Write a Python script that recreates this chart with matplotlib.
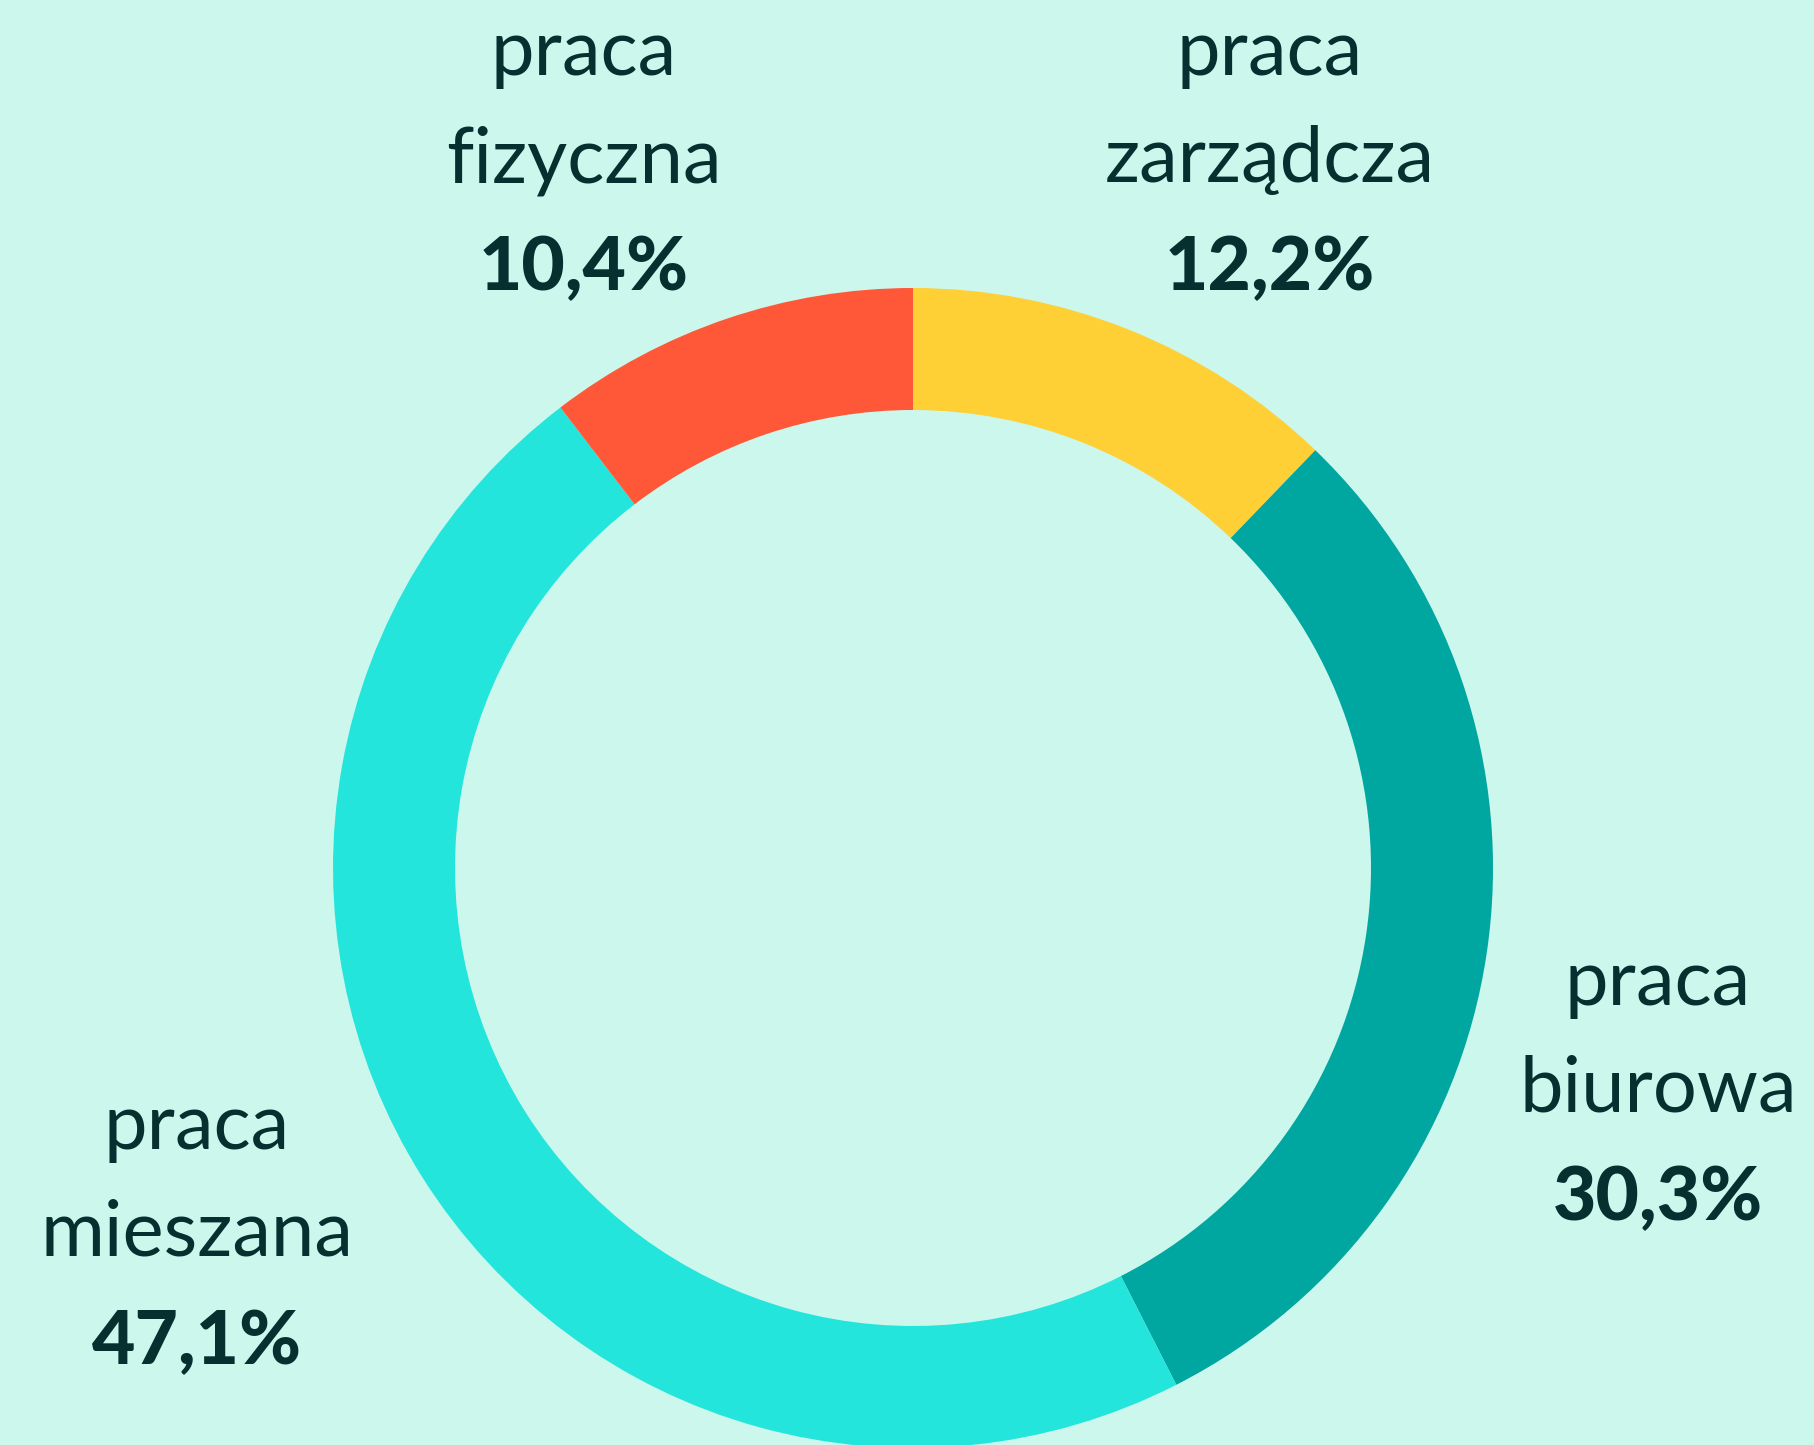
import matplotlib.pyplot as plt

# Share of work type (in %), clockwise from the top
labels = ["praca\nzarządcza", "praca\nbiurowa", "praca\nmieszana", "praca\nfizyczna"]
values = [12.2, 30.3, 47.1, 10.4]
value_text = ["12,2%", "30,3%", "47,1%", "10,4%"]
colors = ["#FFCF36", "#00A6A0", "#24E5DB", "#FF5838"]

bg = "#CCF7ED"
ink = "#062F2F"
W, H = 1814, 1445

fig = plt.figure(figsize=(W / 100, H / 100), dpi=100, facecolor=bg)
ax = fig.add_axes([0, 0, 1, 1])
ax.set_facecolor(bg)

ax.pie(values, colors=colors, startangle=90, counterclock=False,
       radius=580, center=(913, H - 868),
       wedgeprops=dict(width=122, linewidth=0))

ax.set_xlim(0, W)
ax.set_ylim(0, H)
ax.axis("off")

# label positions (x centre, baseline of first line) in image pixels
label_pos = [(1270, 75), (1658, 1005), (197, 1149), (584, 75)]
step = 107

for lab, val, (x, y) in zip(labels, value_text, label_pos):
    for i, line in enumerate(lab.split("\n")):
        ax.text(x, H - (y + i * step), line, ha="center", va="baseline",
                fontsize=56, color=ink, family="Lato")
    ax.text(x, H - (y + 2 * step + 1), val, ha="center", va="baseline",
            fontsize=54, color=ink, family="Lato", fontweight="black")

fig.savefig("out.png", dpi=100, facecolor=bg)
